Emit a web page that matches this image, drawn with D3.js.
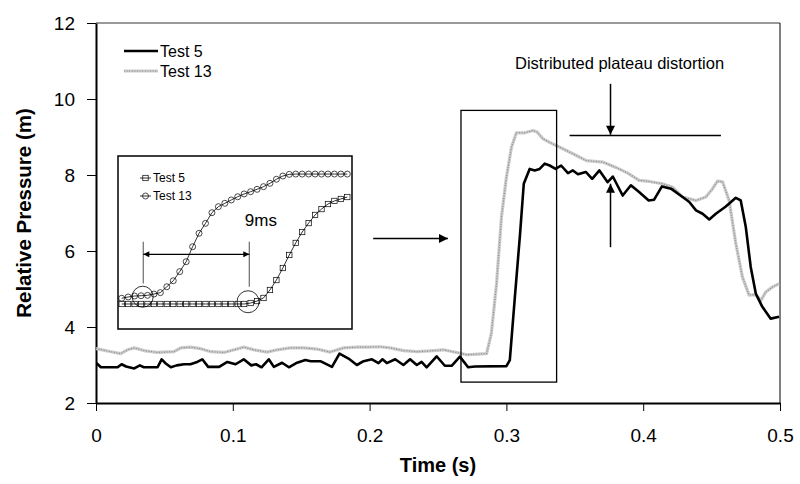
<!DOCTYPE html>
<html lang="en">
<head>
<meta charset="UTF-8">
<title>Relative Pressure</title>
<style>
    body {
        margin: 0;
        padding: 0;
        background: #fff;
    }
    svg text {
        font-family: Arial, "Liberation Sans", sans-serif;
        fill: #000;
    }
</style>
</head>
<body>
<div id="chart"></div>

<script src="https://d3js.org/d3.v7.min.js"></script>
<script>
    // ---- data ----
    const xTicks = [0, 0.1, 0.2, 0.3, 0.4, 0.5];
    const yTicks = [2, 4, 6, 8, 10, 12];

    const time5 = [0, .0036, .0158, .0187, .022, .028, .032, .035, .045, .048, .051, .0547, .059, .0644, .069, .074,
        .0777, .082, .090, .096, .102, .108, .1135, .117, .121, .1263, .130, .136, .141, .147, .153, .157, .164,
        .1725, .178, .1846, .1907, .1956, .2017, .2065, .2094, .2126, .2187, .2247, .2296, .2345, .238, .2417,
        .249, .255, .26, .266, .272, .277, .300, .3025, .306, .31, .3127, .317, .3207, .3243, .328, .3316, .336,
        .340, .345, .3486, .3523, .358, .3627, .368, .374, .3778, .385, .391, .397, .404, .408, .4137, .4203,
        .4288, .4337, .4386, .4434, .4483, .4531, .4604, .4677, .4713, .475, .4786, .4823, .4871, .4932, .4993];
    const pressure5 = [3.06, 2.94, 2.94, 3.02, 2.96, 2.91, 2.99, 2.94, 2.94, 3.15, 3.04, 2.94, 2.99, 3.02, 3.02, 3.08,
        3.15, 2.95, 2.95, 3.08, 3.02, 3.15, 2.99, 3.02, 2.94, 3.15, 2.95, 3.06, 2.94, 3.06, 3.13, 3.1, 3.1,
        2.95, 3.3, 3.17, 3.0, 3.1, 3.15, 3.05, 3.15, 3.05, 3.15, 3.0, 3.15, 3.0, 3.08, 2.94,
        3.23, 2.98, 2.98, 3.22, 2.94, 2.96, 2.97, 3.13, 4.7, 6.46, 7.77, 8.16, 8.12, 8.16, 8.3, 8.25, 8.16,
        8.25, 8.05, 8.12, 8.02, 8.08, 7.9, 8.12, 7.81, 7.96, 7.46, 7.73, 7.55, 7.33, 7.35, 7.7, 7.64,
        7.42, 7.29, 7.07, 6.98, 6.83, 6.98, 7.17, 7.4, 7.33, 6.63, 5.58, 4.88, 4.53, 4.22, 4.27];

    const time13 = [0, .011, .018, .023, .028, .035, .045, .057, .062, .069, .0765, .084, .0935, .101, .108, .1154,
        .125, .1324, .142, .152, .1616, .171, .181, .1907, .198, .2077, .215, .2247, .2345, .244, .254, .2636,
        .271, .2855, .289, .2928, .2964, .300, .3037, .3073, .3134, .3195, .3224, .3268, .3316, .339, .3486,
        .3584, .3705, .380, .3887, .397, .4045, .414, .4215, .4288, .4386, .4458, .4507, .4543, .458, .4628,
        .4677, .4725, .4774, .4823, .486, .4896, .4944, .4993];
    const pressure13 = [3.43, 3.35, 3.3, 3.4, 3.45, 3.38, 3.33, 3.35, 3.45, 3.47, 3.43, 3.35, 3.33, 3.4, 3.47, 3.4,
        3.34, 3.4, 3.45, 3.45, 3.42, 3.34, 3.45, 3.47, 3.47, 3.48, 3.45, 3.38, 3.35, 3.37, 3.4, 3.33,
        3.27, 3.3, 3.83, 5.14, 6.9, 7.94, 8.73, 9.11, 9.11, 9.17, 9.13, 8.95, 8.86, 8.73, 8.56,
        8.38, 8.34, 8.2, 8.05, 7.86, 7.83, 7.77, 7.68, 7.42, 7.33, 7.42, 7.64, 7.84, 7.82, 7.33,
        6.2, 5.32, 4.84, 4.85, 4.7, 4.92, 5.05, 5.14];

    // inset: samples on a common grid, arbitrary pressure units
    const insetTest5 = [0.43, 0.43, 0.43, 0.43, 0.43, 0.43, 0.43, 0.43, 0.43, 0.43, 0.43, 0.43, 0.43, 0.43,
        0.43, 0.43, 0.43, 0.43, 0.43, 0.43, 0.5, 0.64, 0.86, 1.43, 2.14, 3.0, 3.93, 4.79, 5.57, 6.21, 6.79,
        7.21, 7.57, 7.79, 7.93, 8.07];
    const insetTest13 = [0.84, 0.93, 1.0, 1.02, 1.05, 1.14, 1.24, 1.66, 2.09, 2.74, 3.45, 4.52, 5.48, 6.19,
        6.95, 7.38, 7.62, 7.86, 8.09, 8.29, 8.45, 8.62, 8.81, 9.05, 9.34, 9.57, 9.69, 9.71, 9.71, 9.71, 9.71,
        9.71, 9.71, 9.71, 9.71, 9.71];

    const width = 800, height = 484;
    const plot = {left: 96, right: 780, top: 23, bottom: 403};

    const svg = d3.select("#chart").append("svg")
        .attr("width", width)
        .attr("height", height);

    const defs = svg.append("defs");
    defs.append("marker")
        .attr("id", "head")
        .attr("viewBox", "0 0 10 10")
        .attr("refX", 10).attr("refY", 5)
        .attr("markerWidth", 10).attr("markerHeight", 9)
        .attr("markerUnits", "userSpaceOnUse")
        .attr("orient", "auto-start-reverse")
        .append("path").attr("d", "M0,0L10,5L0,10Z").attr("fill", "#000");
    defs.append("marker")
        .attr("id", "headSmall")
        .attr("viewBox", "0 0 10 10")
        .attr("refX", 10).attr("refY", 5)
        .attr("markerWidth", 8).attr("markerHeight", 6)
        .attr("markerUnits", "userSpaceOnUse")
        .attr("orient", "auto-start-reverse")
        .append("path").attr("d", "M0,0L10,5L0,10Z").attr("fill", "#000");
    defs.append("clipPath").attr("id", "clip")
        .append("rect")
        .attr("x", plot.left).attr("y", plot.top)
        .attr("width", plot.right - plot.left).attr("height", plot.bottom - plot.top);

    const x = d3.scaleLinear().domain([0, 0.5]).range([plot.left, plot.right]);
    const y = d3.scaleLinear().domain([2, 12]).range([plot.bottom, plot.top]);

    // frame: top and right
    svg.append("line")
        .attr("x1", plot.left).attr("x2", plot.right)
        .attr("y1", plot.top).attr("y2", plot.top)
        .attr("stroke", "#777").attr("stroke-width", 1.5);
    svg.append("line")
        .attr("x1", plot.right).attr("x2", plot.right)
        .attr("y1", plot.top).attr("y2", plot.bottom)
        .attr("stroke", "#000").attr("stroke-width", 1);

    // axes
    const xAxis = svg.append("g")
        .attr("transform", `translate(0,${plot.bottom})`)
        .call(d3.axisBottom(x).tickValues(xTicks).tickFormat(d3.format("")).tickSizeInner(8).tickSizeOuter(0).tickPadding(18));
    const yAxis = svg.append("g")
        .attr("transform", `translate(${plot.left},0)`)
        .call(d3.axisLeft(y).tickValues(yTicks).tickSizeInner(9).tickSizeOuter(0).tickPadding(12));
    [xAxis, yAxis].forEach(g => {
        g.select(".domain").attr("stroke", "#000").attr("stroke-width", 2);
        g.selectAll(".tick line").attr("stroke", "#000").attr("stroke-width", 1);
        g.selectAll(".tick text").attr("font-size", "19px").attr("fill", "#000")
            .style("font-family", "Arial, 'Liberation Sans', sans-serif");
    });

    svg.append("text")
        .attr("x", (plot.left + plot.right) / 2)
        .attr("y", 472)
        .attr("text-anchor", "middle")
        .attr("font-size", "20px")
        .attr("font-weight", "bold")
        .text("Time (s)");
    svg.append("text")
        .attr("transform", `translate(31,${(plot.top + plot.bottom) / 2}) rotate(-90)`)
        .attr("text-anchor", "middle")
        .attr("font-size", "20.5px")
        .attr("font-weight", "bold")
        .text("Relative Pressure (m)");

    // series
    const line = d3.line().x(d => x(d[0])).y(d => y(d[1]));
    const series5 = time5.map((t, i) => [t, pressure5[i]]);
    const series13 = time13.map((t, i) => [t, pressure13[i]]);

    const lines = svg.append("g").attr("clip-path", "url(#clip)");

    function greyDotted(sel) {
        sel.append("path").attr("fill", "none").attr("stroke", "#cccccc").attr("stroke-width", 3.2);
        sel.append("path").attr("fill", "none").attr("stroke", "#858585").attr("stroke-width", 1.1)
            .attr("stroke-dasharray", "1 1.6");
    }

    const g13 = lines.append("g");
    greyDotted(g13);
    g13.selectAll("path").attr("d", line(series13)).attr("stroke-linejoin", "round");

    lines.append("path")
        .attr("d", line(series5))
        .attr("fill", "none")
        .attr("stroke", "#000")
        .attr("stroke-width", 2.6)
        .attr("stroke-linejoin", "round");

    // legend
    const legend = svg.append("g");
    legend.append("line").attr("x1", 124).attr("x2", 158).attr("y1", 51).attr("y2", 51)
        .attr("stroke", "#000").attr("stroke-width", 2.6);
    legend.append("text").attr("x", 160).attr("y", 51).attr("dy", "0.35em")
        .attr("font-size", "16px").text("Test 5");
    const lg13 = legend.append("g");
    greyDotted(lg13);
    lg13.selectAll("path").attr("d", "M124,71H158");
    legend.append("text").attr("x", 160).attr("y", 71).attr("dy", "0.35em")
        .attr("font-size", "16px").text("Test 13");

    // annotations on the main chart
    svg.append("rect")
        .attr("x", x(0.2668)).attr("y", y(9.70))
        .attr("width", x(0.3367) - x(0.2668)).attr("height", y(2.55) - y(9.70))
        .attr("fill", "none").attr("stroke", "#000").attr("stroke-width", 1.3);

    svg.append("line")
        .attr("x1", x(0.2026)).attr("x2", x(0.2573))
        .attr("y1", y(6.33)).attr("y2", y(6.33))
        .attr("stroke", "#000").attr("stroke-width", 1.5)
        .attr("marker-end", "url(#head)");

    svg.append("line")
        .attr("x1", x(0.3462)).attr("x2", x(0.4568))
        .attr("y1", y(9.04)).attr("y2", y(9.04))
        .attr("stroke", "#000").attr("stroke-width", 1.5);
    svg.append("line")
        .attr("x1", x(0.3761)).attr("x2", x(0.3761))
        .attr("y1", y(10.4)).attr("y2", y(9.06))
        .attr("stroke", "#000").attr("stroke-width", 1.5)
        .attr("marker-end", "url(#head)");
    svg.append("line")
        .attr("x1", x(0.3761)).attr("x2", x(0.3761))
        .attr("y1", y(6.1)).attr("y2", y(7.77))
        .attr("stroke", "#000").attr("stroke-width", 1.5)
        .attr("marker-end", "url(#head)");
    svg.append("text")
        .attr("x", x(0.3827)).attr("y", y(10.8))
        .attr("text-anchor", "middle")
        .attr("font-size", "16.5px")
        .text("Distributed plateau distortion");

    // ---- inset ----
    const inset = svg.append("g");
    inset.append("rect")
        .attr("x", 118).attr("y", 156).attr("width", 234).attr("height", 173)
        .attr("fill", "#fff").attr("stroke", "#000").attr("stroke-width", 1.5);

    const ix = d3.scaleLinear().domain([0, 35]).range([121.7, 347.3]);
    const iy = d3.scaleLinear().domain([0, 10]).range([310, 170]);
    const iline = d3.line().x((d, i) => ix(i)).y(d => iy(d));

    inset.append("path").attr("d", iline(insetTest5))
        .attr("fill", "none").attr("stroke", "#000").attr("stroke-width", 0.8);
    inset.append("path").attr("d", iline(insetTest13))
        .attr("fill", "none").attr("stroke", "#000").attr("stroke-width", 0.8);

    inset.append("g").selectAll("rect")
        .data(insetTest5)
        .join("rect")
        .attr("x", (d, i) => ix(i) - 2.7).attr("y", d => iy(d) - 2.7)
        .attr("width", 5.4).attr("height", 5.4)
        .attr("fill", "none").attr("stroke", "#000").attr("stroke-width", 0.7);
    inset.append("g").selectAll("circle")
        .data(insetTest13)
        .join("circle")
        .attr("cx", (d, i) => ix(i)).attr("cy", d => iy(d)).attr("r", 3)
        .attr("fill", "none").attr("stroke", "#000").attr("stroke-width", 0.7);

    // inset legend
    inset.append("line").attr("x1", 140).attr("x2", 151).attr("y1", 178).attr("y2", 178)
        .attr("stroke", "#000").attr("stroke-width", 0.8);
    inset.append("rect").attr("x", 142.8).attr("y", 175.3).attr("width", 5.4).attr("height", 5.4)
        .attr("fill", "none").attr("stroke", "#000").attr("stroke-width", 0.7);
    inset.append("text").attr("x", 153).attr("y", 178).attr("dy", "0.35em")
        .attr("font-size", "12px").text("Test 5");
    inset.append("line").attr("x1", 140).attr("x2", 151).attr("y1", 196).attr("y2", 196)
        .attr("stroke", "#000").attr("stroke-width", 0.8);
    inset.append("circle").attr("cx", 145.5).attr("cy", 196).attr("r", 3)
        .attr("fill", "none").attr("stroke", "#000").attr("stroke-width", 0.7);
    inset.append("text").attr("x", 153).attr("y", 196).attr("dy", "0.35em")
        .attr("font-size", "12px").text("Test 13");

    // inset annotations
    inset.append("circle").attr("cx", ix(3.26)).attr("cy", iy(0.95)).attr("r", 10.5)
        .attr("fill", "none").attr("stroke", "#000").attr("stroke-width", 0.8);
    inset.append("circle").attr("cx", ix(19.6)).attr("cy", iy(0.59)).attr("r", 11)
        .attr("fill", "none").attr("stroke", "#000").attr("stroke-width", 0.8);
    inset.append("line").attr("x1", ix(3.35)).attr("x2", ix(3.35)).attr("y1", iy(4.88)).attr("y2", iy(1.9))
        .attr("stroke", "#777").attr("stroke-width", 1.3);
    inset.append("line").attr("x1", ix(19.8)).attr("x2", ix(19.8)).attr("y1", iy(4.88)).attr("y2", iy(1.66))
        .attr("stroke", "#777").attr("stroke-width", 1.3);
    inset.append("line").attr("x1", ix(3.35)).attr("x2", ix(19.8)).attr("y1", iy(3.98)).attr("y2", iy(3.98))
        .attr("stroke", "#000").attr("stroke-width", 1.2)
        .attr("marker-start", "url(#headSmall)").attr("marker-end", "url(#headSmall)");
    inset.append("text").attr("x", ix(21.6)).attr("y", iy(6.0))
        .attr("text-anchor", "middle").attr("font-size", "17px").text("9ms");
</script>
</body>
</html>
